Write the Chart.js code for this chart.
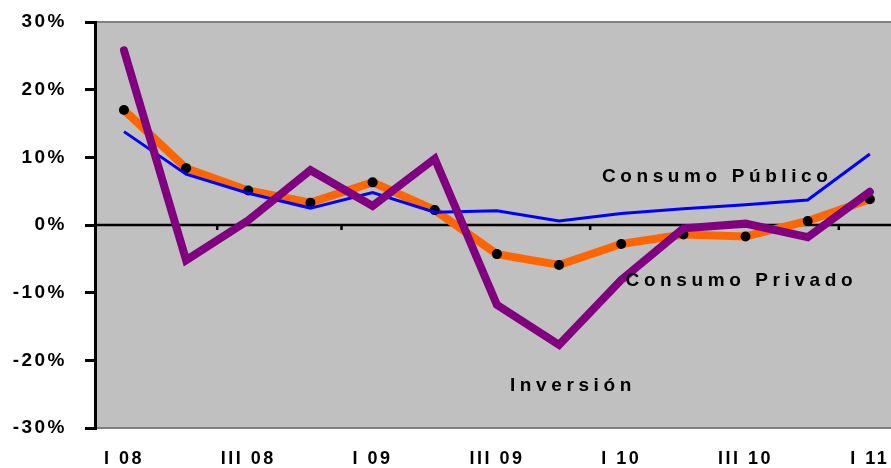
<!DOCTYPE html>
<html>
<head>
<meta charset="utf-8">
<script src="https://cdn.jsdelivr.net/npm/chart.js"></script>
<style>
  html, body { margin: 0; padding: 0; background: #fff; overflow: hidden; }
  #wrap { width: 891px; height: 468px; }
</style>
</head>
<body>
<div id="wrap"><canvas id="chart"></canvas></div>
<script>
// trimestres
const quarters = ['I 08', 'II 08', 'III 08', 'IV 08', 'I 09', 'II 09', 'III 09', 'IV 09',
                  'I 10', 'II 10', 'III 10', 'IV 10', 'I 11'];

// tasas de variación (%)
const consumoPrivado = [17.0, 8.4, 5.1, 3.3, 6.3, 2.2, -4.3, -5.9, -2.8, -1.4, -1.7, 0.6, 3.8];
const consumoPublico = [13.8, 7.5, 4.7, 2.5, 4.8, 1.9, 2.1, 0.6, 1.7, 2.4, 3.0, 3.7, 10.5];
const inversion      = [25.8, -5.2, 0.7, 8.1, 2.8, 9.8, -11.8, -17.7, -8.1, -0.5, 0.2, -1.8, 4.9];

const yTicks = [-30, -20, -10, 0, 10, 20, 30];

// rótulos sobre el gráfico (posición en coordenadas de los ejes)
const seriesLabels = [
    { text: 'Consumo Público', x: 7.69, y: 7.2 },
    { text: 'Consumo Privado', x: 8.07, y: -8.3 },
    { text: 'Inversión',       x: 6.21, y: -23.8 }
];

const toPoints = arr => arr.map((v, i) => ({ x: i, y: v }));
const FONT = '"Liberation Sans", Arial, sans-serif';

const decor = {
    id: 'decor',
    beforeDraw(chart) {
        const { ctx, chartArea: a } = chart;
        ctx.save();
        ctx.fillStyle = '#c0c0c0';
        ctx.fillRect(a.left, a.top, a.right - a.left, a.bottom - a.top);
        ctx.strokeStyle = '#808080';
        ctx.lineWidth = 2;
        ctx.beginPath();
        ctx.moveTo(a.left, a.top); ctx.lineTo(a.right, a.top);
        ctx.moveTo(a.left, a.bottom); ctx.lineTo(a.right, a.bottom);
        ctx.stroke();
        ctx.restore();
        ctx.letterSpacing = '2.5px';
    },
    beforeDatasetsDraw(chart) {
        const { ctx, chartArea: a, scales: { x, y } } = chart;
        const y0 = y.getPixelForValue(0);
        ctx.save();
        ctx.strokeStyle = '#000';
        ctx.lineWidth = 2.5;
        ctx.beginPath();
        ctx.moveTo(a.left, y0); ctx.lineTo(a.right, y0);
        // marcas del eje de categorías, cada dos trimestres
        for (let i = 1; i < quarters.length - 1; i += 2) {
            const px = x.getPixelForValue(i + 0.5);
            ctx.moveTo(px, y0); ctx.lineTo(px, y0 + 5);
        }
        ctx.stroke();
        ctx.restore();
    },
    afterDraw(chart) {
        const { ctx, scales: { x, y } } = chart;
        ctx.save();
        ctx.fillStyle = '#000';
        ctx.font = 'bold 19px ' + FONT;
        ctx.letterSpacing = '4.6px';
        ctx.textAlign = 'left';
        ctx.textBaseline = 'middle';
        seriesLabels.forEach(l => {
            ctx.fillText(l.text, x.getPixelForValue(l.x), y.getPixelForValue(l.y));
        });
        ctx.restore();
    }
};

new Chart(document.getElementById('chart'), {
    type: 'line',
    data: {
        datasets: [
            {
                label: 'Consumo Privado',
                data: toPoints(consumoPrivado),
                borderColor: '#ff6600',
                borderWidth: 8,
                pointRadius: 5,
                pointBackgroundColor: '#000',
                pointBorderColor: '#000',
                pointBorderWidth: 0,
                order: 3
            },
            {
                label: 'Consumo Público',
                data: toPoints(consumoPublico),
                borderColor: '#0000ff',
                borderWidth: 3,
                pointRadius: 0,
                order: 2
            },
            {
                label: 'Inversión',
                data: toPoints(inversion),
                borderColor: '#800080',
                borderWidth: 8,
                borderJoinStyle: 'miter',
                borderCapStyle: 'round',
                pointRadius: 0,
                order: 1
            }
        ]
    },
    options: {
        responsive: true,
        maintainAspectRatio: false,
        animation: false,
        clip: false,
        layout: { autoPadding: false, padding: { top: 22, right: 0, left: 0, bottom: 0 } },
        plugins: {
            legend: { display: false },
            tooltip: { enabled: false }
        },
        scales: {
            x: {
                type: 'linear',
                min: -0.466,
                max: 12.34,
                afterBuildTicks: s => { s.ticks = quarters.map((q, i) => ({ value: i })); },
                afterFit: s => { s.height = 40; s.paddingLeft = 0; s.paddingRight = 0; },
                grid: { display: false, drawTicks: false },
                border: { display: false },
                ticks: {
                    autoSkip: false,
                    maxRotation: 0,
                    padding: 20,
                    color: '#000',
                    font: { family: FONT, size: 18, weight: 'bold' },
                    callback: (v, i) => (i % 2 === 0) ? quarters[i] : ''
                }
            },
            y: {
                min: -30,
                max: 30,
                afterFit: s => { s.width = 95; s.paddingTop = 0; s.paddingBottom = 0; },
                afterBuildTicks: s => { s.ticks = yTicks.map(v => ({ value: v })); },
                grid: {
                    drawOnChartArea: false,
                    tickLength: 10,
                    color: '#000',
                    lineWidth: 3
                },
                border: { color: '#000', width: 3 },
                ticks: {
                    padding: 18,
                    color: '#000',
                    font: { family: FONT, size: 19, weight: 'bold' },
                    callback: v => v + '%'
                }
            }
        }
    },
    plugins: [decor]
});
</script>
</body>
</html>
